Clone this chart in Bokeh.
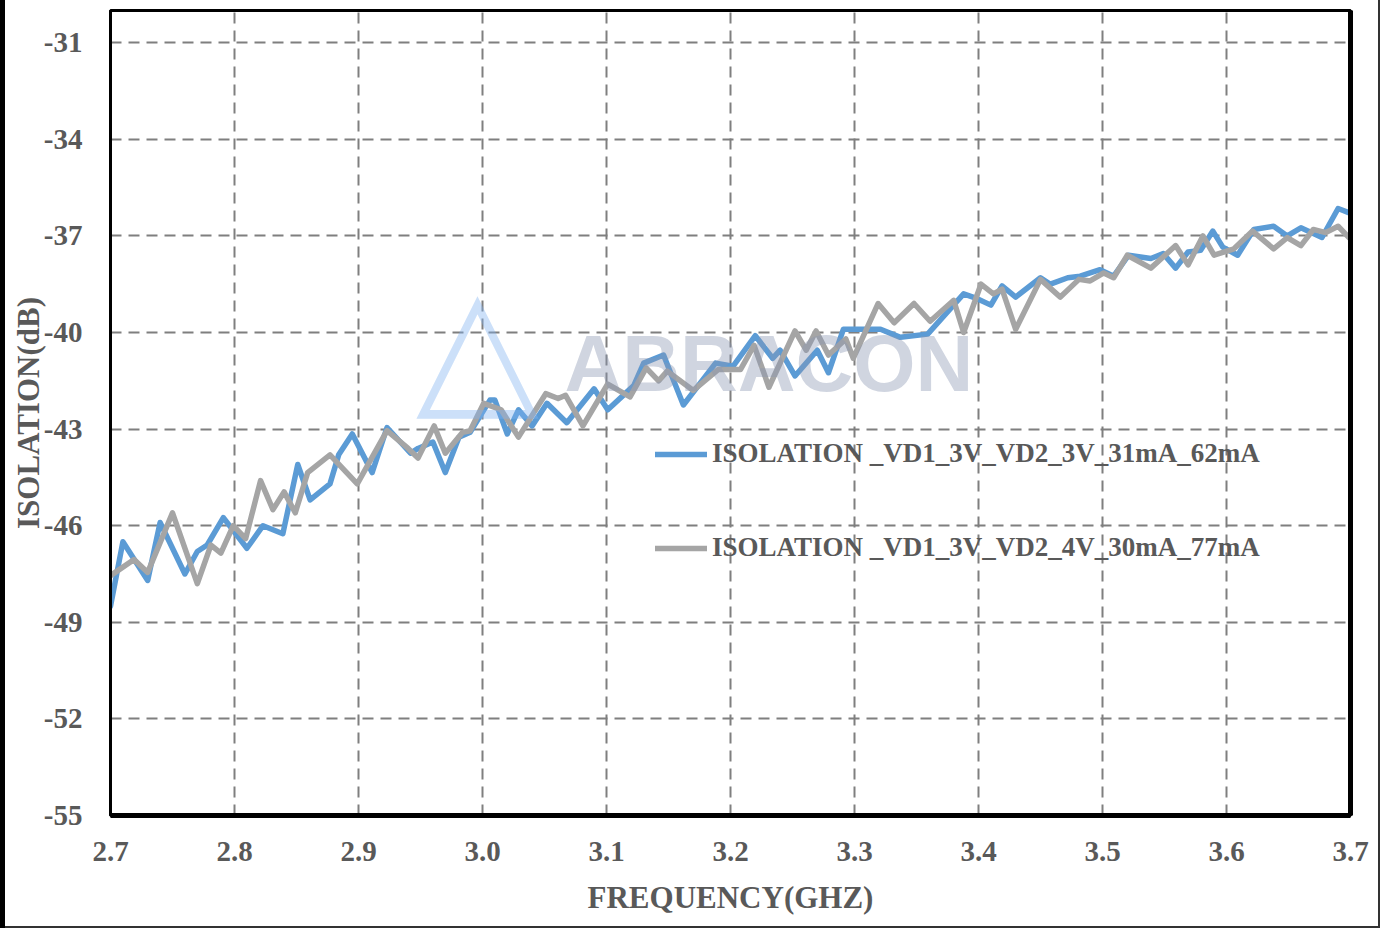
from bokeh.plotting import figure
from bokeh.models import (FixedTicker, Legend, LegendItem, LinearAxis, Label,
                          Range1d, CustomJSTickFormatter)
from bokeh.embed import file_html
from bokeh.resources import INLINE

# ---- data ----
freq_a = [2.700, 2.710, 2.730, 2.740, 2.760, 2.770, 2.778, 2.791, 2.810, 2.823,
          2.839, 2.851, 2.861, 2.877, 2.884, 2.895, 2.911, 2.923, 2.942, 2.948,
          2.960, 2.970, 2.981, 2.990, 3.006, 3.010, 3.020, 3.029, 3.040, 3.052,
          3.068, 3.090, 3.101, 3.122, 3.130, 3.146, 3.162, 3.188, 3.202, 3.220,
          3.234, 3.240, 3.252, 3.270, 3.279, 3.291, 3.321, 3.337, 3.359, 3.388,
          3.399, 3.410, 3.419, 3.430, 3.450, 3.458, 3.472, 3.482, 3.498, 3.509,
          3.521, 3.539, 3.549, 3.559, 3.569, 3.579, 3.589, 3.597, 3.609, 3.622,
          3.638, 3.649, 3.660, 3.677, 3.690, 3.700]
iso_a = [-48.5, -46.5, -47.7, -45.9, -47.5, -46.8, -46.6, -45.75, -46.7, -46.0,
         -46.25, -44.1, -45.2, -44.7, -43.8, -43.15, -44.35, -42.95, -43.75, -43.6,
         -43.4, -44.35, -43.25, -43.1, -42.1, -42.1, -43.15, -42.4, -42.9, -42.2,
         -42.8, -41.75, -42.4, -41.65, -40.95, -40.7, -42.25, -40.95, -41.05, -40.1,
         -40.8, -40.55, -41.35, -40.55, -41.25, -39.9, -39.9, -40.15, -40.05, -38.8,
         -38.95, -39.15, -38.55, -38.9, -38.3, -38.5, -38.3, -38.25, -38.05, -38.25,
         -37.6, -37.7, -37.55, -38.0, -37.5, -37.45, -36.85, -37.35, -37.6, -36.8,
         -36.7, -37.0, -36.75, -37.05, -36.15, -36.3]

freq_b = [2.700, 2.719, 2.730, 2.750, 2.770, 2.781, 2.789, 2.799, 2.809, 2.821,
          2.831, 2.840, 2.849, 2.859, 2.877, 2.899, 2.923, 2.940, 2.948, 2.961,
          2.970, 2.984, 2.990, 3.001, 3.015, 3.029, 3.051, 3.061, 3.067, 3.081,
          3.101, 3.119, 3.132, 3.142, 3.149, 3.170, 3.190, 3.208, 3.219, 3.231,
          3.252, 3.261, 3.269, 3.279, 3.293, 3.299, 3.319, 3.332, 3.348, 3.361,
          3.380, 3.388, 3.402, 3.412, 3.419, 3.430, 3.450, 3.466, 3.481, 3.490,
          3.501, 3.509, 3.520, 3.539, 3.559, 3.569, 3.581, 3.590, 3.606, 3.621,
          3.638, 3.649, 3.660, 3.670, 3.680, 3.690, 3.700]
iso_b = [-47.55, -47.05, -47.45, -45.6, -47.8, -46.6, -46.85, -46.0, -46.4, -44.6,
         -45.5, -44.95, -45.6, -44.35, -43.8, -44.7, -43.05, -43.6, -43.9, -42.9,
         -43.75, -43.1, -43.05, -42.2, -42.4, -43.25, -41.9, -42.05, -41.95, -42.9,
         -41.6, -42.0, -41.1, -41.5, -41.2, -41.8, -41.15, -41.15, -40.4, -41.7,
         -39.95, -40.55, -39.95, -40.7, -40.2, -40.8, -39.1, -39.7, -39.1, -39.65,
         -39.0, -40.0, -38.5, -38.8, -38.65, -39.9, -38.35, -38.9, -38.35, -38.4,
         -38.15, -38.3, -37.6, -38.0, -37.3, -37.9, -37.0, -37.6, -37.4, -36.85,
         -37.4, -37.05, -37.3, -36.8, -36.9, -36.7, -37.1]

series_labels = ["ISOLATION _VD1_3V_VD2_3V_31mA_62mA",
                 "ISOLATION _VD1_3V_VD2_4V_30mA_77mA"]
x_ticks = [2.7, 2.8, 2.9, 3.0, 3.1, 3.2, 3.3, 3.4, 3.5, 3.6, 3.7]
y_ticks = [-55, -52, -49, -46, -43, -40, -37, -34, -31]
x_title = "FREQUENCY(GHZ)"
y_title = "ISOLATION(dB)"
watermark = "ABRACON"

# ---- styling ----
FONT = "Liberation Serif"
TXT = "#595959"
BLUE = "#5B9BD5"
GRAY = "#A5A5A5"

p = figure(frame_width=1240, frame_height=805,
           x_range=Range1d(2.7, 3.7), y_range=Range1d(-55, -30),
           output_backend="svg", toolbar_location=None,
           min_border_left=110, min_border_right=30,
           min_border_top=10, min_border_bottom=113,
           background_fill_color="white", border_fill_color=None)
p.styles = {"box-shadow": "inset 5px 0 0 0 black, inset -2px -2px 0 0 #333333",
            "background-color": "white"}

p.outline_line_color = "black"
p.outline_line_width = 3

for ax in (p.xaxis[0], p.yaxis[0]):
    ax.major_tick_line_color = None
    ax.minor_tick_line_color = None
    ax.major_label_text_font = FONT
    ax.major_label_text_font_style = "bold"
    ax.major_label_text_font_size = "29px"
    ax.major_label_text_color = TXT
    ax.axis_label_text_font = FONT
    ax.axis_label_text_font_style = "bold"
    ax.axis_label_text_font_size = "31px"
    ax.axis_label_text_color = TXT
    ax.axis_line_color = "black"

p.xaxis.ticker = FixedTicker(ticks=x_ticks)
p.xaxis.formatter = CustomJSTickFormatter(code="return tick.toFixed(1);")
p.xaxis.major_label_standoff = 20
p.xaxis.axis_label = x_title
p.xaxis.axis_label_standoff = 16
p.xaxis.axis_line_width = 5

p.yaxis.ticker = FixedTicker(ticks=y_ticks)
p.yaxis.formatter = CustomJSTickFormatter(code="return tick.toFixed(0);")
p.yaxis.major_label_standoff = 22
p.yaxis.axis_label = y_title
p.yaxis.axis_label_standoff = -5
p.yaxis.axis_line_width = 3

right_axis = LinearAxis(ticker=FixedTicker(ticks=[]), axis_line_color="black",
                        axis_line_width=5, major_tick_line_color=None,
                        minor_tick_line_color=None)
p.add_layout(right_axis, "right")

for g in (p.xgrid[0], p.ygrid[0]):
    g.grid_line_color = "#7F7F7F"
    g.grid_line_width = 2
    g.grid_line_dash = "11 7"

r1 = p.line(freq_a, iso_a, line_color=BLUE, line_width=5.5,
            line_join="round", line_cap="round")
r2 = p.line(freq_b, iso_b, line_color=GRAY, line_width=5.5,
            line_join="round", line_cap="round")

legend = Legend(items=[LegendItem(label=series_labels[0], renderers=[r1]),
                       LegendItem(label=series_labels[1], renderers=[r2])],
                location=(545, 252), orientation="vertical",
                background_fill_alpha=0, border_line_color=None,
                label_text_font=FONT, label_text_font_style="bold",
                label_text_font_size="27px", label_text_color=TXT,
                glyph_width=52, glyph_height=30, label_height=30,
                label_standoff=5, spacing=63, padding=0, margin=0)
p.add_layout(legend, "center")

# watermark (logo + name)
logo = Label(x=367, y=472, x_units="screen", y_units="screen", text="\u25B3",
             text_font="DejaVu Sans", text_font_style="bold",
             text_font_size="160px",
             text_color="#7FB2F0", text_alpha=0.4,
             text_align="center", text_baseline="middle")
name = Label(x=454, y=452, x_units="screen", y_units="screen", text=watermark,
             text_font="Liberation Sans", text_font_style="bold",
             text_font_size="80px", text_color="#8996B1", text_alpha=0.4,
             text_align="left", text_baseline="alphabetic")
p.add_layout(logo)
p.add_layout(name)

open("out.html", "w").write(file_html(p, INLINE))
